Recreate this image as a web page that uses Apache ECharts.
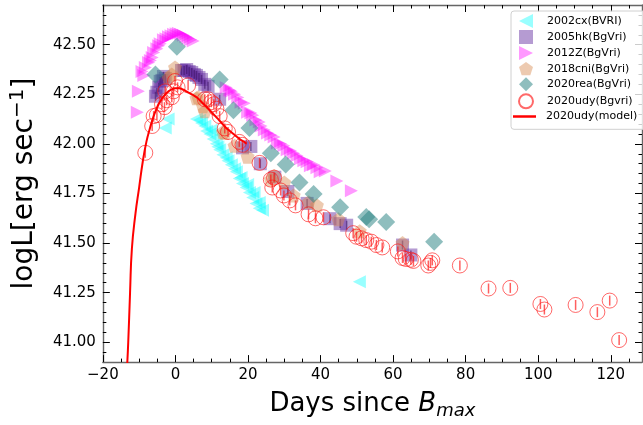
<!DOCTYPE html>
<html>
<head>
<meta charset="utf-8">
<title>2020udy bolometric light curve</title>
<script src="https://cdn.jsdelivr.net/npm/echarts@6/dist/echarts.min.js"></script>
<style>
  html, body { margin: 0; padding: 0; background: #fff; }
  #chart { width: 643px; height: 425px; }
</style>
</head>
<body>
<div id="chart"></div>
<script>
// points are [days since B max, logL]
var sn2002cx = [
  [-2.8, 42.08], [-2.0, 42.125], [5.8, 42.125], [6.7, 42.12], [7.2, 42.105], [8.1, 42.09],
  [8.6, 42.065], [9.5, 42.05], [9.9, 42.07], [10.4, 42.025], [11.3, 42.0], [11.7, 41.985],
  [12.2, 41.97], [13.1, 41.945], [14.0, 41.93], [14.5, 41.915], [15.4, 41.895], [16.3, 41.875],
  [16.8, 41.86], [17.6, 41.825], [18.1, 41.83], [18.5, 41.8], [19.5, 41.78], [19.9, 41.795],
  [20.4, 41.755], [21.3, 41.73], [21.7, 41.755], [22.2, 41.7], [23.1, 41.675], [23.1, 41.705],
  [24.0, 41.665], [50.7, 41.305]
]
var sn2005hk = [
  [-5.5, 42.24], [-5.1, 42.26], [-4.6, 42.285], [-4.2, 42.315], [-3.7, 42.32], [-3.3, 42.34],
  [-2.8, 42.33], [1.7, 42.37], [2.4, 42.37], [3.1, 42.375], [3.8, 42.365], [4.5, 42.36],
  [5.2, 42.35], [5.8, 42.345], [6.5, 42.335], [7.2, 42.325], [8.1, 42.3], [9.0, 42.29],
  [12.2, 42.225], [18.5, 41.98], [20.8, 41.987], [23.4, 41.9], [27.4, 41.832], [31.0, 41.76],
  [36.3, 41.7], [42.6, 41.623], [45.4, 41.598], [47.2, 41.59], [62.6, 41.49], [64.9, 41.44]
]
var sn2012Z = [
  [-10.5, 42.16], [-10.2, 42.265], [-9.2, 42.365], [-8.7, 42.345], [-8.3, 42.385], [-7.4, 42.41],
  [-6.9, 42.42], [-6.4, 42.435], [-6.0, 42.46], [-5.1, 42.48], [-4.6, 42.495], [-4.2, 42.505],
  [-3.3, 42.525], [-2.6, 42.53], [-1.9, 42.54], [-1.2, 42.545], [-0.5, 42.552], [0.2, 42.555],
  [0.8, 42.557], [1.5, 42.553], [2.2, 42.548], [2.9, 42.54], [3.5, 42.532], [4.2, 42.525],
  [4.9, 42.519], [14.0, 42.284], [15.0, 42.27], [15.4, 42.265], [16.3, 42.25], [17.2, 42.234],
  [18.1, 42.21], [19.0, 42.205], [19.9, 42.16], [20.8, 42.155], [21.3, 42.144], [22.2, 42.12],
  [23.1, 42.11], [23.6, 42.09], [24.5, 42.07], [25.4, 42.055], [26.3, 42.045], [27.2, 42.035],
  [28.1, 42.005], [29.0, 42.0], [29.9, 41.99], [30.8, 41.97], [31.7, 41.965], [32.6, 41.953],
  [33.5, 41.94], [34.5, 41.925], [35.4, 41.915], [36.3, 41.91], [37.2, 41.89], [38.1, 41.895],
  [39.0, 41.88], [39.9, 41.86], [41.3, 41.863], [44.5, 41.813], [48.5, 41.764]
]
var sn2018cni = [
  [-1.9, 42.335], [-1.0, 42.35], [-0.1, 42.385], [5.8, 42.23], [6.3, 42.235], [7.6, 42.19],
  [8.1, 42.165], [13.1, 42.06], [13.6, 42.055], [16.3, 41.99], [19.9, 41.935], [26.3, 41.82],
  [27.2, 41.838], [30.0, 41.805], [32.6, 41.74], [36.7, 41.706], [39.0, 41.69], [44.9, 41.62],
  [50.8, 41.56], [62.6, 41.5]
]
var sn2020rea = [
  [-5.5, 42.35], [0.4, 42.49], [12.2, 42.325], [16.0, 42.17], [20.4, 42.08], [26.3, 41.953],
  [30.4, 41.896], [34.2, 41.805], [38.1, 41.747], [45.4, 41.68], [52.6, 41.631], [53.4, 41.62],
  [58.1, 41.606], [71.3, 41.507]
]
var sn2020udy = [
  [-8.3, 41.955], [-6.4, 42.09], [-6.0, 42.14], [-5.1, 42.145], [-3.7, 42.2], [-3.0, 42.185],
  [-2.4, 42.22], [-2.8, 42.265], [-1.0, 42.235], [-0.5, 42.265], [-0.1, 42.317], [0.6, 42.285],
  [3.5, 42.295], [8.1, 42.225], [9.0, 42.225], [9.9, 42.21], [10.6, 42.2], [11.3, 42.177],
  [12.2, 42.14], [13.6, 42.078], [14.5, 42.06], [17.6, 42.01], [18.5, 41.995], [23.2, 41.904],
  [26.3, 41.82], [26.7, 41.78], [27.2, 41.83], [29.0, 41.765], [29.9, 41.74], [31.5, 41.715],
  [33.1, 41.69], [36.7, 41.645], [38.6, 41.625], [40.8, 41.63], [49.0, 41.55], [49.9, 41.532],
  [51.3, 41.524], [52.6, 41.515], [54.0, 41.507], [55.4, 41.49], [57.0, 41.478], [61.3, 41.458],
  [62.6, 41.425], [63.5, 41.42], [64.9, 41.416], [65.6, 41.41], [69.7, 41.387], [70.3, 41.4],
  [70.8, 41.413], [78.4, 41.387], [86.3, 41.271], [92.3, 41.274], [100.6, 41.193], [101.7, 41.165],
  [110.3, 41.188], [116.3, 41.152], [119.7, 41.21], [122.3, 41.011]
]
var udyModel = [
  [-13.4, 40.85], [-13.0, 41.0], [-12.5, 41.25], [-12.0, 41.47], [-11.0, 41.65], [-10.0, 41.78],
  [-9.0, 41.91], [-8.0, 42.01], [-7.0, 42.08], [-6.0, 42.14], [-5.0, 42.185], [-4.0, 42.22],
  [-3.0, 42.245], [-2.0, 42.263], [-1.0, 42.275], [0.0, 42.28], [1.0, 42.28], [2.0, 42.275],
  [3.0, 42.265], [4.0, 42.255], [5.0, 42.245], [6.0, 42.232], [7.0, 42.215], [8.0, 42.197],
  [9.0, 42.178], [10.0, 42.158], [11.0, 42.14], [12.0, 42.12], [13.0, 42.1], [14.0, 42.08],
  [15.0, 42.065], [16.0, 42.05], [17.0, 42.035], [18.0, 42.02], [19.0, 42.01], [19.5, 42.0]
]

var xTicks = [-20, 0, 20, 40, 60, 80, 100, 120]
var xMinorTicks = [-15, -10, -5, 5, 10, 15, 25, 30, 35, 45, 50, 55, 65, 70, 75, 85, 90, 95, 105, 110, 115, 125]
var yTicks = [41.00, 41.25, 41.50, 41.75, 42.00, 42.25, 42.50]
var yMinorTicks = [40.95, 41.05, 41.10, 41.15, 41.20, 41.30, 41.35, 41.40, 41.45, 41.55, 41.60, 41.65, 41.70,
  41.80, 41.85, 41.90, 41.95, 42.05, 42.10, 42.15, 42.20, 42.30, 42.35, 42.40, 42.45, 42.55, 42.60, 42.65]

var markerNames = ['2002cx(BVRI)', '2005hk(BgVri)', '2012Z(BgVri)', '2018cni(BgVri)', '2020rea(BgVri)', '2020udy(Bgvri)']
var modelName = '2020udy(model)'

var FONT = 'DejaVu Sans'
var spine = { show: true, onZero: false, lineStyle: { color: '#666', width: 1.4 } }
var noLine = { show: false, onZero: false }
var pentagon = 'path://M50,0 L97.6,34.5 L79.4,90.5 L20.6,90.5 L2.4,34.5 Z'
var triRight = 'path://M0,0 L10,5 L0,10 Z'
var triLeft = 'path://M10,0 L0,5 L10,10 Z'

function minus (v) {
  return v < 0 ? '\u2212' + Math.abs(v) : String(v)
}

// one axis per side for major ticks and one for minor ticks
function xAx (pos, ticks, len, labels, line) {
  return {
    type: 'value', position: pos, min: -20, max: 128.6,
    axisLine: line ? spine : noLine,
    axisTick: { show: true, inside: true, length: len, customValues: ticks, lineStyle: { color: '#000', width: 1 } },
    axisLabel: labels ? { show: true, customValues: ticks, margin: 6, fontSize: 15, fontFamily: FONT, color: '#000', formatter: minus } : { show: false },
    splitLine: { show: false }
  }
}
function yAx (pos, ticks, len, labels, line) {
  return {
    type: 'value', position: pos, min: 40.9, max: 42.7,
    axisLine: line ? spine : noLine,
    axisTick: { show: true, inside: true, length: len, customValues: ticks, lineStyle: { color: '#000', width: 1 } },
    axisLabel: labels ? { show: true, customValues: ticks, margin: 7, fontSize: 15, fontFamily: FONT, color: '#000', formatter: function (v) { return v.toFixed(2) } } : { show: false },
    splitLine: { show: false }
  }
}

var xMain = xAx('bottom', xTicks, 7, true, true)
xMain.name = '{a|Days since }{i|B}{s|max}'
xMain.nameLocation = 'middle'
xMain.nameGap = 22
xMain.nameTextStyle = {
  rich: {
    a: { fontSize: 26, fontFamily: FONT, color: '#000', lineHeight: 32 },
    i: { fontSize: 26, fontFamily: FONT, fontStyle: 'italic', color: '#000', lineHeight: 32 },
    s: { fontSize: 18, fontFamily: FONT, fontStyle: 'italic', color: '#000', lineHeight: 18, padding: [14, 0, 0, 0] }
  }
}
var yMain = yAx('left', yTicks, 7, true, true)
yMain.name = '{a|logL[erg sec}{s|\u22121}{a|]}'
yMain.nameLocation = 'middle'
yMain.nameRotate = 90
yMain.nameGap = 57
yMain.nameTextStyle = {
  rich: {
    a: { fontSize: 28, fontFamily: FONT, color: '#000', lineHeight: 34 },
    s: { fontSize: 20, fontFamily: FONT, color: '#000', lineHeight: 20, padding: [0, 0, 14, 0] }
  }
}

var chart = echarts.init(document.getElementById('chart'))
chart.setOption({
  animation: false,
  textStyle: { fontFamily: FONT },
  grid: { left: 97, right: 1, top: 5, bottom: 55 },
  legend: [
    {
      data: markerNames,
      orient: 'vertical',
      left: 511,
      top: 11,
      itemWidth: 14,
      itemHeight: 14,
      itemGap: 2,
      padding: [3, 14, 20, 7],
      borderColor: '#d0d0d0',
      borderWidth: 1,
      borderRadius: 3,
      backgroundColor: 'rgba(255,255,255,0.8)',
      textStyle: { fontSize: 11, fontFamily: FONT, color: '#000', padding: [0, 0, 0, 9] }
    },
    {
      data: [{ name: modelName, icon: 'rect' }],
      orient: 'vertical',
      left: 513,
      top: 111,
      itemWidth: 23,
      itemHeight: 2.5,
      padding: 0,
      textStyle: { fontSize: 11, fontFamily: FONT, color: '#000', padding: [0, 0, 0, 5] }
    }
  ],
  xAxis: [
    xMain,
    xAx('bottom', xMinorTicks, 3.5, false, false),
    xAx('top', xTicks, 7, false, true),
    xAx('top', xMinorTicks, 3.5, false, false)
  ],
  yAxis: [
    yMain,
    yAx('left', yMinorTicks, 3.5, false, false),
    yAx('right', yTicks, 7, false, true),
    yAx('right', yMinorTicks, 3.5, false, false)
  ],
  series: [
    {
      name: '2002cx(BVRI)', type: 'scatter', data: sn2002cx,
      symbol: triLeft, symbolSize: 13,
      itemStyle: { color: 'rgba(0,255,255,0.5)' }
    },
    {
      name: '2005hk(BgVri)', type: 'scatter', data: sn2005hk,
      symbol: 'rect', symbolSize: 13,
      itemStyle: { color: 'rgba(100,45,160,0.6)' }
    },
    {
      name: '2005hk err', type: 'scatter', data: sn2005hk, silent: true,
      symbol: 'rect', symbolSize: [1.5, 9],
      itemStyle: { color: 'rgba(60,20,100,0.7)' }
    },
    {
      name: '2012Z(BgVri)', type: 'scatter', data: sn2012Z,
      symbol: triRight, symbolSize: 13,
      itemStyle: { color: 'rgba(255,0,255,0.5)' }
    },
    {
      name: '2018cni(BgVri)', type: 'scatter', data: sn2018cni,
      symbol: pentagon, symbolSize: 14,
      itemStyle: { color: 'rgba(215,135,75,0.55)' }
    },
    {
      name: '2020rea(BgVri)', type: 'scatter', data: sn2020rea,
      symbol: 'diamond', symbolSize: 18,
      itemStyle: { color: 'rgba(40,130,130,0.65)' }
    },
    {
      name: '2020udy(Bgvri)', type: 'scatter', data: sn2020udy,
      symbol: 'circle', symbolSize: 15,
      itemStyle: { color: 'rgba(255,255,255,0)', borderColor: 'rgba(255,20,20,0.8)', borderWidth: 1 }
    },
    {
      name: '2020udy err', type: 'scatter', data: sn2020udy, silent: true,
      symbol: 'rect', symbolSize: [1.5, 10],
      itemStyle: { color: 'rgba(255,20,20,0.85)' }
    },
    {
      name: modelName, type: 'line', data: udyModel,
      showSymbol: false, symbol: 'none', smooth: true, clip: true,
      lineStyle: { color: '#ff0000', width: 2 },
      itemStyle: { color: '#ff0000' },
      z: 5
    }
  ]
})
</script>
</body>
</html>
